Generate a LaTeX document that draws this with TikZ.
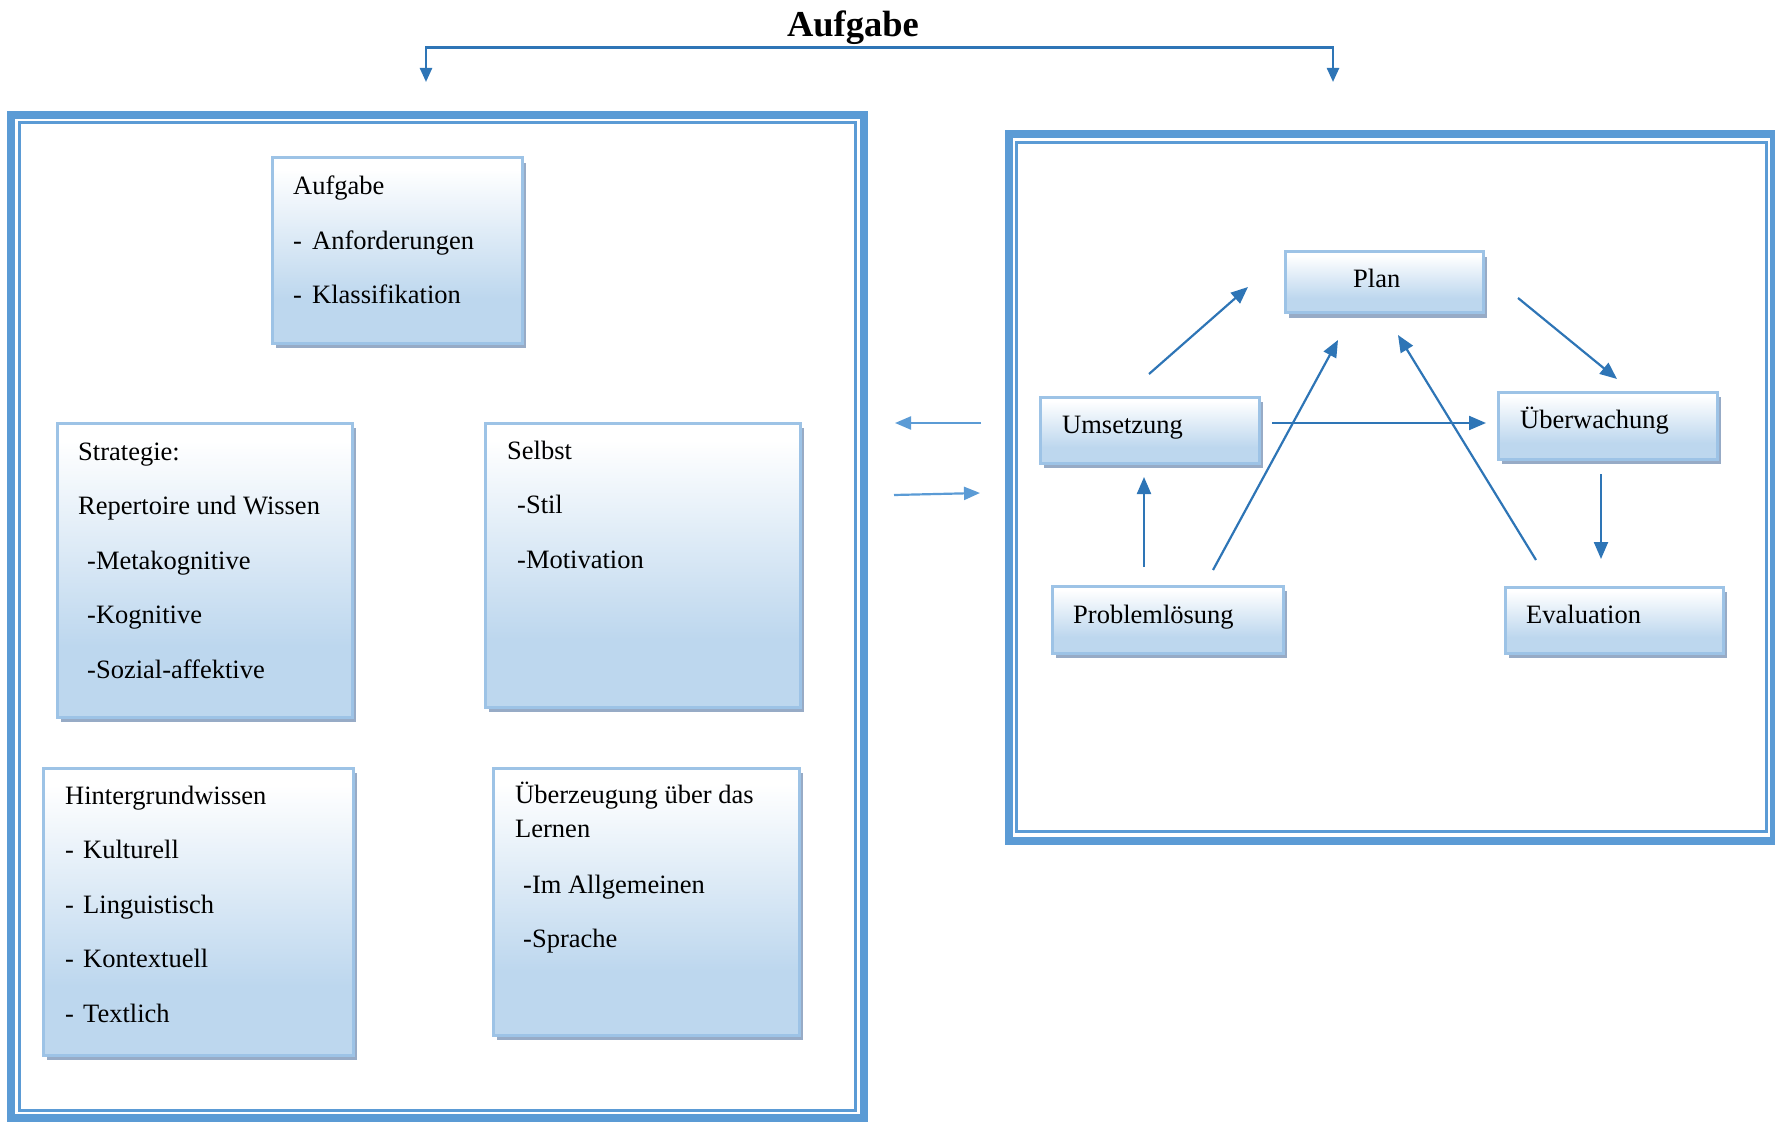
\documentclass[tikz,border=0pt]{standalone}
\usepackage{fontspec}
\setmainfont{Liberation Serif}
\usetikzlibrary{arrows.meta,shadows}
\definecolor{frameblue}{HTML}{5B9BD5}
\definecolor{arrowblue}{HTML}{2E75B6}
\definecolor{boxedge}{HTML}{9DC3E6}
\definecolor{boxbot}{HTML}{BDD7EE}
\definecolor{shadowc}{HTML}{97ABC6}
% white at the top, fading to light blue over the lower part
\pgfdeclareverticalshading{boxfade}{100bp}{color(0bp)=(boxbot); color(25bp)=(boxbot); color(37bp)=(boxbot); color(72bp)=(white); color(100bp)=(white)}

\begin{document}
\begin{tikzpicture}[x=1pt,y=-1pt,
  box/.style={draw=boxedge, line width=3pt, shade, shading=boxfade, inner sep=0pt,
    drop shadow={shadow xshift=4pt, shadow yshift=-5pt, fill=shadowc, opacity=1}},
  txt/.style={inner sep=0pt, anchor=base west, font=\fontsize{26.5}{54.5}\selectfont},
  frame/.style={draw=frameblue, line width=8pt, inner sep=0pt},
  innerframe/.style={draw=frameblue, line width=3pt, inner sep=0pt},
  flow/.style={draw=arrowblue, line width=2.2pt, -{Triangle[length=17pt,width=14pt]}},
  side/.style={draw=frameblue, line width=2.2pt, -{Triangle[length=16pt,width=13pt]}},
  topflow/.style={draw=arrowblue, line width=2.4pt,
    {Triangle[length=14pt,width=12pt]}-{Triangle[length=14pt,width=12pt]}}
]
\useasboundingbox (0,0) rectangle (1775,1123);

% title and the split connector below it
\node[font=\bfseries\fontsize{36.5}{40}\selectfont, inner sep=0pt, outer sep=2.5pt, anchor=base] (title) at (853,37) {Aufgabe};
\coordinate (lt) at (426,82);
\coordinate (rt) at (1333,82);
\draw[topflow] (lt) |- (title.south) -| (rt);

% left frame: factors
\node[frame, minimum width=852.5, minimum height=1003] (leftframe) at (437.25,616.5) {};
\node[innerframe, minimum width=836.5, minimum height=987] (leftinner) at (437.25,616.5) {};

% right frame: process
\node[frame, minimum width=765, minimum height=706] (rightframe) at (1391.5,487.5) {};
\node[innerframe, minimum width=750, minimum height=688.5] (rightinner) at (1391.5,487.25) {};

% boxes of the left frame
\node[box, minimum width=250, minimum height=185] (aufg) at (397,250.5) {};
\node[txt] (aufgT) at (293,195) {\parbox[t]{220pt}{Aufgabe\\\makebox[19pt][l]{-}Anforderungen\\\makebox[19pt][l]{-}Klassifikation}};

\node[box, minimum width=295, minimum height=294] (strat) at (204.5,570) {};
\node[txt] (stratT) at (78,460) {\parbox[t]{270pt}{Strategie:\\Repertoire und Wissen\\\hspace*{9pt}-Metakognitive\\\hspace*{9pt}-Kognitive\\\hspace*{9pt}-Sozial-affektive}};

\node[box, minimum width=315, minimum height=284] (selbst) at (642.5,565) {};
\node[txt] (selbstT) at (507,459) {\parbox[t]{270pt}{Selbst\\\hspace*{10pt}-Stil\\\hspace*{10pt}-Motivation}};

\node[box, minimum width=310, minimum height=287] (hinter) at (198,911.5) {};
\node[txt] (hinterT) at (65,804) {\parbox[t]{270pt}{Hintergrundwissen\\\makebox[18pt][l]{-}Kulturell\\\makebox[18pt][l]{-}Linguistisch\\\makebox[18pt][l]{-}Kontextuell\\\makebox[18pt][l]{-}Textlich}};

\node[box, minimum width=306, minimum height=267] (ueberz) at (646,901.5) {};
\node[txt, font=\fontsize{26.5}{34}\selectfont] (ueberzT) at (515,803) {\parbox[t]{270pt}{Überzeugung über das\\Lernen\\[22pt]\hspace*{8pt}-Im Allgemeinen\\[20pt]\hspace*{8pt}-Sprache}};

% boxes of the right frame
\node[box, minimum width=198, minimum height=61] (plan) at (1384,282.5) {};
\node[txt] (planT) at (1353,288) {Plan};

\node[box, minimum width=219, minimum height=66] (umset) at (1149.5,430) {};
\node[txt] (umsetT) at (1062,433) {Umsetzung};

\node[box, minimum width=219, minimum height=67] (ueberw) at (1607.5,425.5) {};
\node[txt] (ueberwT) at (1520,428) {Überwachung};

\node[box, minimum width=231, minimum height=67] (probl) at (1167.5,619.5) {};
\node[txt] (problT) at (1073,623) {Problemlösung};

\node[box, minimum width=218, minimum height=66] (eval) at (1614,620) {};
\node[txt] (evalT) at (1526,623) {Evaluation};

% arrow end points inside the process frame
\coordinate (u1) at (1149,374);   \coordinate (u2) at (1248,287);
\coordinate (p1) at (1144,567);   \coordinate (p2) at (1144,477);
\coordinate (q1) at (1213,570);   \coordinate (q2) at (1338,340);
\coordinate (h1) at (1272,423);   \coordinate (h2) at (1486,423);
\coordinate (m1) at (1518,298);   \coordinate (m2) at (1617,379);
\coordinate (w1) at (1601,474);   \coordinate (w2) at (1601,559);
\coordinate (e1) at (1536,560);   \coordinate (e2) at (1398,335);

\draw[flow] (u1) -- (u2);
\draw[flow] (p1) -- (p2);
\draw[flow] (q1) -- (q2);
\draw[flow] (h1) -- (h2);
\draw[flow] (m1) -- (m2);
\draw[flow] (w1) -- (w2);
\draw[flow] (e1) -- (e2);

% exchange between the two frames
\coordinate (s1) at (981,423);   \coordinate (s2) at (895,423);
\coordinate (s3) at (894,495);   \coordinate (s4) at (980,493);
\draw[side] (s1) -- (s2);
\draw[side] (s3) -- (s4);
\end{tikzpicture}
\end{document}
